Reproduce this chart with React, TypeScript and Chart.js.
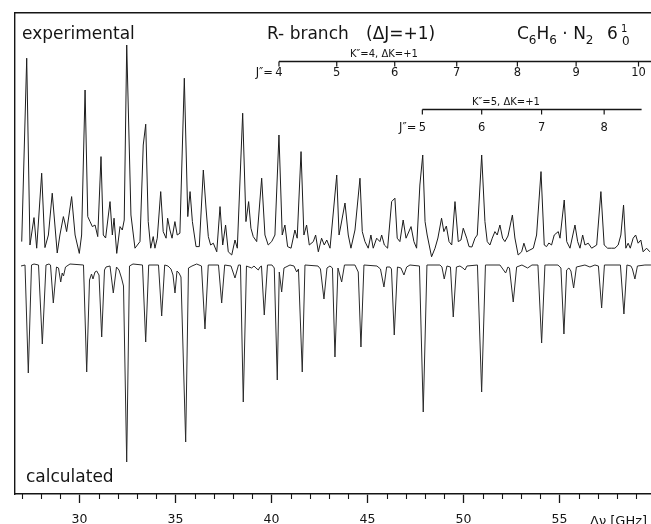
import React, { useEffect, useRef } from "react";
import { Chart, registerables } from "chart.js";

Chart.register(...registerables);

const FONT = "'DejaVu Sans', sans-serif";
const INK = "#151515";

// ---- frequency axis (GHz) ----
const xMin = 26.64;
const xMax = 59.77;
const majorEvery = 5;
const axisTitle = "\u0394\u03bd [GHz]";

// ---- experimental spectrum (frequency GHz, intensity a.u.) ----
const expFreq = [
  26.99, 27.25, 27.42, 27.63, 27.77, 28.03, 28.2, 28.38, 28.58, 28.84,
  28.98, 29.16, 29.24, 29.33, 29.59, 29.77, 29.99, 30.11, 30.29, 30.43,
  30.55, 30.67, 30.81, 30.95, 31.12, 31.24, 31.36, 31.59, 31.71, 31.8,
  31.94, 32.11, 32.23, 32.33, 32.46, 32.68, 32.89, 33.15, 33.32, 33.45,
  33.58, 33.71, 33.84, 33.93, 34.05, 34.23, 34.36, 34.51, 34.59, 34.71,
  34.82, 34.97, 35.09, 35.23, 35.46, 35.64, 35.76, 35.88, 36.07, 36.24,
  36.45, 36.59, 36.71, 36.83, 36.97, 37.15, 37.32, 37.46, 37.61, 37.75,
  37.93, 38.1, 38.22, 38.5, 38.67, 38.81, 38.93, 39.05, 39.23, 39.49,
  39.66, 39.83, 40.01, 40.18, 40.39, 40.56, 40.7, 40.84, 41.02, 41.22,
  41.34, 41.54, 41.69, 41.83, 41.97, 42.18, 42.3, 42.44, 42.61, 42.75,
  42.88, 43.05, 43.4, 43.52, 43.62, 43.83, 44.0, 44.14, 44.35, 44.61,
  44.73, 44.87, 45.04, 45.18, 45.3, 45.48, 45.65, 45.74, 45.88, 46.05,
  46.26, 46.43, 46.55, 46.69, 46.86, 47.01, 47.27, 47.42, 47.56, 47.73,
  47.88, 48.0, 48.11, 48.34, 48.52, 48.67, 48.86, 48.98, 49.11, 49.25,
  49.39, 49.56, 49.73, 49.87, 49.99, 50.17, 50.29, 50.44, 50.6, 50.72,
  50.95, 51.12, 51.24, 51.38, 51.5, 51.64, 51.76, 51.9, 52.04, 52.16,
  52.32, 52.55, 52.68, 52.85, 53.03, 53.15, 53.29, 53.46, 53.64, 53.81,
  54.04, 54.21, 54.33, 54.45, 54.59, 54.73, 54.94, 55.03, 55.25, 55.38,
  55.55, 55.81, 55.95, 56.07, 56.21, 56.33, 56.5, 56.68, 56.94, 57.16,
  57.33, 57.51, 57.72, 57.89, 58.06, 58.2, 58.34, 58.46, 58.58, 58.69,
  58.84, 58.97, 59.1, 59.24, 59.36, 59.54, 59.71,
];
const expInt = [
  4.2, 95.9, 2.5, 16.2, 0.9, 38.4, 1.2, 7.5, 28.4, -1.5,
  7.5, 16.7, 13.5, 9.2, 26.7, 7.5, -1.7, 7.5, 80, 16.7,
  14.2, 11.7, 12.5, 6.7, 46.7, 7.5, 6, 24.2, 7.5, 15.9,
  -1.7, 11.7, 10, 15, 102.5, 17.5, 0.9, 4.2, 52.5, 62.9,
  14.2, 0.9, 6.7, 0.9, 5.9, 29.2, 9.2, 5.9, 15.9, 10,
  5.9, 14.2, 7.5, 8.4, 85.9, 16.7, 29.2, 14.2, 1.7, 1.7,
  40, 21, 6.7, 2.5, 3.4, -0.9, 21.7, 2.5, 12.5, -0.9,
  -2.5, 5, 0.9, 68.4, 14.2, 24.2, 10.9, 6.7, 4.2, 35.9,
  7.5, 2.5, 4.2, 7.5, 57.5, 7.5, 12.5, 1.7, 0.9, 10,
  5.9, 49.2, 7.5, 12.5, 2.5, 4.2, 7.5, -0.9, 5.9, 2.5,
  5, 0.9, 37.5, 7.5, 12.5, 23.5, 7.5, 0.9, 10, 35.9,
  9.2, 4.2, 0.9, 7.5, 0.9, 5.9, 4.2, 7.5, 2.5, 0.9,
  24.2, 25.9, 5.9, 4.2, 15, 5.9, 11.7, 4.2, 0.9, 32.5,
  47.5, 14.2, 7.5, -3.4, 0.9, 6, 15.9, 9.2, 12, 4.2,
  2.5, 24.2, 4.2, 5, 10.9, 5.9, 1.7, 1.5, 5.9, 7.5,
  47.5, 14.2, 4.2, 2.5, 5.9, 9.2, 7.5, 12.5, 5.9, 4.2,
  7, 17.5, 6, -2.5, -0.9, 3.4, -0.9, 0, 0.9, 7.5,
  39.2, 2.5, 1.7, 3.5, 2.5, 7.5, 9.2, 5.9, 25, 4.2,
  0.9, 12.5, 4.2, 0.9, 7.5, 2.5, 3.4, 0.9, 2.5, 29.2,
  2.5, 0.9, 0.9, 0.9, 2.5, 7.5, 22.5, 0.9, 3.4, 0.9,
  5.9, 7.5, 3.4, 5, -0.9, 0.9, -0.9,
];

// ---- calculated spectrum (frequency GHz, inverted intensity a.u.) ----
const calcFreq = [
  26.953, 27.161, 27.333, 27.5, 27.63, 27.865, 28.063, 28.255, 28.411, 28.49,
  28.635, 28.802, 28.906, 29.021, 29.099, 29.167, 29.271, 29.505, 30.208, 30.375,
  30.521, 30.625, 30.703, 30.807, 30.896, 31.016, 31.156, 31.302, 31.38, 31.589,
  31.76, 31.927, 32.057, 32.188, 32.292, 32.458, 32.604, 32.786, 33.281, 33.448,
  33.604, 34.115, 34.281, 34.438, 34.609, 34.766, 34.87, 34.974, 35.078, 35.182,
  35.286, 35.531, 35.677, 35.859, 36.104, 36.354, 36.536, 36.708, 37.24, 37.406,
  37.563, 37.891, 38.099, 38.281, 38.385, 38.531, 38.698, 38.828, 38.969, 39.089,
  39.193, 39.313, 39.401, 39.479, 39.625, 39.792, 40.026, 40.146, 40.302, 40.406,
  40.531, 40.651, 40.964, 41.172, 41.313, 41.406, 41.604, 41.745, 42.422, 42.552,
  42.734, 42.891, 43.047, 43.177, 43.307, 43.464, 43.656, 43.802, 44.349, 44.521,
  44.661, 44.818, 45.495, 45.677, 45.859, 46.0, 46.172, 46.25, 46.396, 46.563,
  46.745, 46.901, 47.042, 47.214, 47.708, 47.906, 48.099, 48.776, 48.88, 49.0,
  49.141, 49.323, 49.469, 49.635, 49.818, 49.974, 50.078, 50.182, 50.729, 50.948,
  51.146, 51.901, 52.198, 52.318, 52.396, 52.594, 52.771, 53.047, 53.344, 53.568,
  53.88, 54.073, 54.245, 54.922, 55.078, 55.234, 55.375, 55.495, 55.599, 55.74,
  55.885, 56.328, 56.589, 56.849, 57.031, 57.198, 57.344, 58.177, 58.359, 58.516,
  58.724, 58.802, 58.932, 59.063, 59.453, 59.766,
];
const calcInt = [
  -0.5, 0, -54, 0, 0.5, 0, -39.5, 0, 0.5, 0,
  -19, -1, -1.5, -8.5, -4, -5.5, -1, 0.5, 0, -53.5,
  -7.5, -4.5, -7, -3.5, -3, -5, -36, -2.5, -1, -0.5,
  -14, -1, -2.5, -6.5, -10.5, -98.5, -0.5, 0.5, 0, -38.5,
  0, 0, -25.5, 0, -0.5, -2, -5, -14, -3, -4,
  -6, -88.5, -1.5, -0.5, 0.5, -0.5, -32, 0, 0, -19,
  0, -0.5, -6.5, 0, 0, -68.5, -0.5, -1, -1.5, -0.5,
  -1.5, -2.5, -1, -0.5, -25, 0, 0, -1.5, -57.5, -3.5,
  -13.5, -1.5, 0, -0.5, -3.5, -2, -53.5, 0, -0.5, -2,
  -17, -1.5, -0.5, -1.5, -46, -1.5, -8.5, 0, 0, -3.5,
  -41, 0, -0.5, -2, -11, -1, -1, -2, -35, -1,
  -1.5, -5, -1, 0, -0.5, -73.5, 0, 0, -1, -7,
  -0.5, -1, -26, -1, -0.5, -1.5, -2.5, -0.5, 0, -63.5,
  0, 0, -4, -1, -1.5, -18.5, -1, 0, -1.5, 0,
  0, -39, 0, 0, -1.5, -34.5, -2.5, -1.5, -3, -11.5,
  -1, 0, -1, 0, -0.5, -21.5, 0, 0, -24.5, 0,
  -0.5, -2, -7, -0.5, 0, 0,
];

// ---- rotational assignment combs (J'' labels at line positions, GHz) ----
const k4Title = "K\u2033=4, \u0394K=+1";
const k4Labels = ["4", "5", "6", "7", "8", "9", "10"];
const k4Pos = [40.39, 43.4, 46.42, 49.65, 52.81, 55.87, 59.12];
const k4End = 59.77;
const k5Title = "K\u2033=5, \u0394K=+1";
const k5Labels = ["5", "6", "7", "8"];
const k5Pos = [47.86, 50.95, 54.07, 57.33];
const k5End = 59.28;

const annotations = {
  id: "annotations",
  afterDraw(chart: any) {
    const { ctx, chartArea: area, scales } = chart;
    const x = scales.x;
    ctx.save();
    ctx.strokeStyle = INK;
    ctx.fillStyle = INK;
    const seg = (x1: number, y1: number, x2: number, y2: number, w = 1.2) => {
      ctx.lineWidth = w;
      ctx.beginPath();
      ctx.moveTo(x1, y1);
      ctx.lineTo(x2, y2);
      ctx.stroke();
    };
    // minor ticks of the frequency axis
    x.ticks.forEach((t: any) => {
      if (t.value % majorEvery !== 0) {
        const px = Math.round(x.getPixelForValue(t.value)) + 0.5;
        seg(px, area.bottom, px, area.bottom + 5, 1.1);
      }
    });
    // axis title
    ctx.font = `13px ${FONT}`;
    ctx.textAlign = "left";
    ctx.textBaseline = "alphabetic";
    ctx.fillText(axisTitle, 590, 525);

    // combs
    const comb = (pos: number[], labels: string[], endV: number, yLine: number, yNum: number, title: string, tx: number, ty: number) => {
      const x0 = x.getPixelForValue(pos[0]);
      const x1 = Math.min(x.getPixelForValue(endV), area.right);
      seg(x0, yLine, x1, yLine, 1.3);
      ctx.font = `11.5px ${FONT}`;
      ctx.textAlign = "center";
      ctx.textBaseline = "middle";
      pos.forEach((p, i) => {
        const px = x.getPixelForValue(p);
        seg(px, yLine, px, yLine + 5, 1.2);
        ctx.fillText(labels[i], px, yNum);
      });
      ctx.textAlign = "right";
      ctx.fillText("J\u2033=", x0 - 6, yNum);
      ctx.font = `10px ${FONT}`;
      ctx.textAlign = "center";
      ctx.fillText(title, tx, ty);
    };
    comb(k4Pos, k4Labels, k4End, 61.5, 73, k4Title, 384, 54);
    comb(k5Pos, k5Labels, k5End, 109.5, 128, k5Title, 506, 102);

    // big labels
    ctx.textAlign = "left";
    ctx.textBaseline = "alphabetic";
    ctx.font = `17px ${FONT}`;
    ctx.fillText("experimental", 22, 39);
    ctx.fillText("calculated", 26, 482);
    ctx.fillText("R- branch", 267, 38.5);
    ctx.fillText("(\u0394J=+1)", 366, 38.5);

    // molecule label C6H6 · N2  6^1_0
    const runs: [string, number, number][] = [
      ["C", 17, 0], ["6", 12, 5], ["H", 17, 0], ["6", 12, 5], [" \u00b7 N", 17, 0], ["2", 12, 5],
    ];
    let cx = 517;
    runs.forEach(([t, s, dy]) => {
      ctx.font = `${s}px ${FONT}`;
      ctx.fillText(t, cx, 38.5 + dy);
      cx += ctx.measureText(t).width;
    });
    ctx.font = `17px ${FONT}`;
    ctx.fillText("6", 607, 38.5);
    ctx.font = `10px ${FONT}`;
    ctx.fillText("1", 621, 32);
    ctx.font = `12px ${FONT}`;
    ctx.fillText("0", 622, 44.5);
    ctx.restore();
  },
};

export default function App() {
  const ref = useRef<HTMLCanvasElement | null>(null);
  useEffect(() => {
    if (!ref.current) return;
    const expData = expFreq.map((f, i) => ({ x: f, y: expInt[i] }));
    const calcData = calcFreq.map((f, i) => ({ x: f, y: calcInt[i] }));
    const chart = new Chart(ref.current, {
      type: "line",
      data: {
        datasets: [
          {
            label: "experimental",
            data: expData,
            yAxisID: "yExp",
            borderColor: "#1c1c1c",
            borderWidth: 1,
            pointRadius: 0,
            tension: 0,
          },
          {
            label: "calculated",
            data: calcData,
            yAxisID: "yCalc",
            borderColor: "#2a2a2a",
            borderWidth: 1,
            pointRadius: 0,
            tension: 0,
          },
        ],
      },
      options: {
        responsive: false,
        animation: false,
        devicePixelRatio: 1,
        layout: { padding: 0 },
        plugins: { legend: { display: false }, tooltip: { enabled: false }, title: { display: false } },
        scales: {
          x: {
            type: "linear",
            position: "bottom",
            min: xMin,
            max: xMax,
            afterFit: (s: any) => { s.height = 30; },
            border: { display: true, color: INK, width: 1.6 },
            grid: {
              display: true,
              drawOnChartArea: false,
              drawTicks: true,
              tickLength: 9,
              tickWidth: 1.3,
              tickColor: (c: any) => (c.tick && c.tick.value % majorEvery === 0 ? INK : "rgba(0,0,0,0)"),
            },
            ticks: {
              stepSize: 1,
              includeBounds: false,
              autoSkip: false,
              maxRotation: 0,
              padding: 9,
              color: INK,
              font: { family: FONT, size: 12.5 },
              callback: (v: any) => (Number(v) % majorEvery === 0 ? String(v) : ""),
            },
          },
          xTop: {
            type: "linear",
            position: "top",
            min: xMin,
            max: xMax,
            afterFit: (s: any) => { s.height = 13; },
            border: { display: true, color: INK, width: 1.4 },
            grid: { display: false },
            ticks: { display: false },
          },
          yExp: {
            type: "linear",
            position: "left",
            min: -122,
            max: 118.5,
            afterFit: (s: any) => { s.width = 15; },
            border: { display: true, color: INK, width: 1.4 },
            grid: { display: false },
            ticks: { display: false },
          },
          yCalc: {
            type: "linear",
            position: "left",
            display: false,
            min: -114.5,
            max: 126,
          },
        },
      },
      plugins: [annotations],
    });
    return () => chart.destroy();
  }, []);
  return (
    <div style={{ position: "absolute", left: 0, top: 0, width: 651, height: 524, background: "#fff" }}>
      <canvas ref={ref} width={651} height={524} style={{ display: "block" }} />
    </div>
  );
}
